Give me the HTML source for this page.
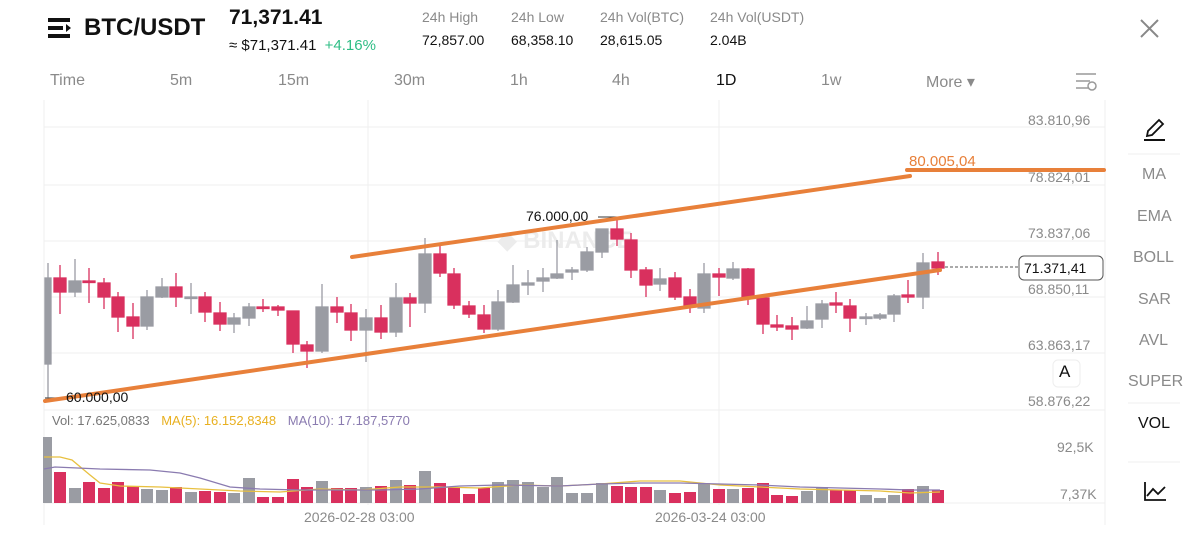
<!DOCTYPE html>
<html><head><meta charset="utf-8"><style>
body{margin:0;width:1200px;height:540px;background:#fff;overflow:hidden;font-family:"Liberation Sans",sans-serif;position:relative}
.a{position:absolute;white-space:nowrap}
.g{color:#8a8a8a}
</style></head><body>
<svg class="a" style="left:0;top:0" width="1200" height="540">
<!-- header icon -->
<rect x="48" y="18" width="22" height="4" fill="#111"/><rect x="48" y="26" width="15" height="4" fill="#111"/><rect x="48" y="34" width="22" height="4" fill="#111"/><path d="M66 24 l5 4 l-5 4z" fill="#111"/>
<!-- close X -->
<path d="M1141 20 L1158 37 M1158 20 L1141 37" stroke="#888" stroke-width="2"/>
<!-- menu icon -->
<path d="M1076 74 H1096 M1076 81 H1090 M1076 88 H1088" stroke="#999" stroke-width="1.5"/><circle cx="1092" cy="86" r="4" fill="none" stroke="#999" stroke-width="1.5"/>
<!-- grid -->
<g stroke="#efefef" stroke-width="1">
<line x1="44" y1="127" x2="1105" y2="127"/><line x1="44" y1="185" x2="1105" y2="185"/><line x1="44" y1="241" x2="1105" y2="241"/><line x1="44" y1="297" x2="1105" y2="297"/><line x1="44" y1="353" x2="1105" y2="353"/><line x1="44" y1="410" x2="1105" y2="410"/><line x1="44" y1="503" x2="1105" y2="503"/>
<line x1="368" y1="100" x2="368" y2="505"/><line x1="719" y1="100" x2="719" y2="505"/>
<line x1="44" y1="100" x2="44" y2="525"/><line x1="1105" y1="100" x2="1105" y2="525"/>
<line x1="1128" y1="154" x2="1180" y2="154"/><line x1="1128" y1="403" x2="1180" y2="403"/><line x1="1128" y1="462" x2="1180" y2="462"/>
</g>
<!-- watermark -->
<text x="498" y="248" font-size="24" font-weight="bold" fill="#ececec" font-family="Liberation Sans,sans-serif">◆ BINANCE</text>
<!-- candles -->
<g id="c" stroke-width="1.3">
<g fill="#9a9ca3" stroke="#9a9ca3">
<line x1="48" y1="263" x2="48" y2="398"/><rect x="45" y="278" width="6" height="86"/><line x1="45" y1="398" x2="66" y2="398" stroke="#555"/>
<line x1="75" y1="259" x2="75" y2="297"/><rect x="69" y="281" width="12" height="11"/>
<line x1="147" y1="290" x2="147" y2="330"/><rect x="141" y="297" width="12" height="29"/>
<line x1="162" y1="278" x2="162" y2="298"/><rect x="156" y="287" width="12" height="10"/>
<line x1="191" y1="283" x2="191" y2="314"/><rect x="185" y="297" width="12" height="1.5"/>
<line x1="234" y1="313" x2="234" y2="333"/><rect x="228" y="318" width="12" height="6"/>
<line x1="249" y1="303" x2="249" y2="326"/><rect x="243" y="307" width="12" height="11"/>
<line x1="322" y1="284" x2="322" y2="353"/><rect x="316" y="307" width="12" height="44"/>
<line x1="366" y1="309" x2="366" y2="362"/><rect x="360" y="318" width="12" height="12"/>
<line x1="396" y1="283" x2="396" y2="337"/><rect x="390" y="298" width="12" height="34"/>
<line x1="425" y1="238" x2="425" y2="313"/><rect x="419" y="254" width="12" height="49"/>
<line x1="498" y1="290" x2="498" y2="331"/><rect x="492" y="302" width="12" height="27"/>
<line x1="513" y1="265" x2="513" y2="303"/><rect x="507" y="285" width="12" height="17"/>
<line x1="528" y1="270" x2="528" y2="295"/><rect x="522" y="283" width="12" height="2"/>
<line x1="543" y1="268" x2="543" y2="292"/><rect x="537" y="278" width="12" height="3"/>
<line x1="557" y1="240" x2="557" y2="279"/><rect x="551" y="274" width="12" height="4"/>
<line x1="572" y1="267" x2="572" y2="280"/><rect x="566" y="270" width="12" height="2"/>
<line x1="587" y1="247" x2="587" y2="272"/><rect x="581" y="252" width="12" height="18"/>
<line x1="602" y1="229" x2="602" y2="258"/><rect x="596" y="229" width="12" height="23"/>
<line x1="660" y1="268" x2="660" y2="291"/><rect x="654" y="279" width="12" height="5"/>
<line x1="704" y1="263" x2="704" y2="313"/><rect x="698" y="274" width="12" height="34"/>
<line x1="733" y1="262" x2="733" y2="280"/><rect x="727" y="269" width="12" height="9"/>
<line x1="807" y1="306" x2="807" y2="329"/><rect x="801" y="321" width="12" height="7"/>
<line x1="822" y1="300" x2="822" y2="328"/><rect x="816" y="304" width="12" height="15"/>
<line x1="866" y1="313" x2="866" y2="325"/><rect x="860" y="317" width="12" height="1.5"/>
<line x1="880" y1="313" x2="880" y2="320"/><rect x="874" y="315" width="12" height="3"/>
<line x1="894" y1="294" x2="894" y2="322"/><rect x="888" y="296" width="12" height="18"/>
<line x1="923" y1="253" x2="923" y2="309"/><rect x="917" y="263" width="12" height="34"/>
</g>
<g fill="#d9305e" stroke="#d9305e">
<line x1="60" y1="265" x2="60" y2="314"/><rect x="54" y="278" width="12" height="14"/>
<line x1="89" y1="268" x2="89" y2="303"/><rect x="83" y="281" width="12" height="1.5"/>
<line x1="104" y1="278" x2="104" y2="309"/><rect x="98" y="283" width="12" height="14"/>
<line x1="118" y1="292" x2="118" y2="332"/><rect x="112" y="297" width="12" height="20"/>
<line x1="133" y1="303" x2="133" y2="339"/><rect x="127" y="317" width="12" height="9"/>
<line x1="176" y1="273" x2="176" y2="307"/><rect x="170" y="287" width="12" height="10"/>
<line x1="205" y1="292" x2="205" y2="322"/><rect x="199" y="297" width="12" height="15"/>
<line x1="220" y1="302" x2="220" y2="331"/><rect x="214" y="313" width="12" height="11"/>
<line x1="263" y1="299" x2="263" y2="312"/><rect x="257" y="307" width="12" height="1.5"/>
<line x1="278" y1="305" x2="278" y2="316"/><rect x="272" y="307" width="12" height="3"/>
<line x1="293" y1="311" x2="293" y2="353"/><rect x="287" y="311" width="12" height="33"/>
<line x1="307" y1="341" x2="307" y2="368"/><rect x="301" y="345" width="12" height="6"/>
<line x1="337" y1="297" x2="337" y2="323"/><rect x="331" y="307" width="12" height="5"/>
<line x1="351" y1="304" x2="351" y2="341"/><rect x="345" y="313" width="12" height="17"/>
<line x1="381" y1="305" x2="381" y2="339"/><rect x="375" y="318" width="12" height="14"/>
<line x1="410" y1="293" x2="410" y2="327"/><rect x="404" y="298" width="12" height="5"/>
<line x1="440" y1="245" x2="440" y2="277"/><rect x="434" y="254" width="12" height="19"/>
<line x1="454" y1="268" x2="454" y2="309"/><rect x="448" y="274" width="12" height="31"/>
<line x1="469" y1="301" x2="469" y2="318"/><rect x="463" y="306" width="12" height="8"/>
<line x1="484" y1="305" x2="484" y2="333"/><rect x="478" y="315" width="12" height="14"/>
<line x1="617" y1="217" x2="617" y2="246"/><rect x="611" y="229" width="12" height="10"/>
<line x1="631" y1="233" x2="631" y2="278"/><rect x="625" y="240" width="12" height="30"/>
<line x1="646" y1="267" x2="646" y2="297"/><rect x="640" y="270" width="12" height="15"/>
<line x1="675" y1="272" x2="675" y2="300"/><rect x="669" y="278" width="12" height="19"/>
<line x1="690" y1="289" x2="690" y2="313"/><rect x="684" y="297" width="12" height="10"/>
<line x1="719" y1="268" x2="719" y2="296"/><rect x="713" y="274" width="12" height="3"/>
<line x1="748" y1="268" x2="748" y2="305"/><rect x="742" y="269" width="12" height="28"/>
<line x1="763" y1="296" x2="763" y2="334"/><rect x="757" y="298" width="12" height="26"/>
<line x1="777" y1="315" x2="777" y2="331"/><rect x="771" y="325" width="12" height="2"/>
<line x1="792" y1="317" x2="792" y2="340"/><rect x="786" y="326" width="12" height="3"/>
<line x1="836" y1="292" x2="836" y2="313"/><rect x="830" y="303" width="12" height="2"/>
<line x1="850" y1="299" x2="850" y2="332"/><rect x="844" y="306" width="12" height="12"/>
<line x1="908" y1="280" x2="908" y2="303"/><rect x="902" y="295" width="12" height="2"/>
<line x1="938" y1="252" x2="938" y2="275"/><rect x="932" y="262" width="12" height="6"/>
</g>
</g>
<!-- 76000 marker -->
<line x1="598" y1="217" x2="617" y2="217" stroke="#333" stroke-width="1"/>
<!-- trend lines -->
<g stroke="#e8803a" stroke-width="4" stroke-linecap="round">
<line x1="352" y1="257" x2="910" y2="176"/>
<line x1="45" y1="401" x2="940" y2="270"/>
<line x1="907" y1="170" x2="1104" y2="170"/>
</g>
<line x1="945" y1="267" x2="1018" y2="267" stroke="#555" stroke-width="1" stroke-dasharray="3,2"/>
<rect x="1019" y="256" width="84" height="24" rx="5" fill="#fff" stroke="#555"/>
<rect x="1053" y="360" width="27" height="27" rx="5" fill="#fff" stroke="#eee"/>
<!-- volume -->
<g fill="#9a9ca3">
<rect x="43" y="437" width="9" height="66"/><rect x="69" y="488" width="12" height="15"/><rect x="141" y="489" width="12" height="14"/><rect x="156" y="490" width="12" height="13"/><rect x="185" y="492" width="12" height="11"/><rect x="228" y="493" width="12" height="10"/><rect x="243" y="478" width="12" height="25"/><rect x="316" y="481" width="12" height="22"/><rect x="360" y="487" width="12" height="16"/><rect x="390" y="480" width="12" height="23"/><rect x="419" y="471" width="12" height="32"/><rect x="492" y="482" width="12" height="21"/><rect x="507" y="480" width="12" height="23"/><rect x="522" y="482" width="12" height="21"/><rect x="537" y="487" width="12" height="16"/><rect x="551" y="477" width="12" height="26"/><rect x="566" y="493" width="12" height="10"/><rect x="581" y="493" width="12" height="10"/><rect x="596" y="483" width="12" height="20"/><rect x="654" y="490" width="12" height="13"/><rect x="698" y="483" width="12" height="20"/><rect x="727" y="489" width="12" height="14"/><rect x="801" y="491" width="12" height="12"/><rect x="816" y="487" width="12" height="16"/><rect x="860" y="495" width="12" height="8"/><rect x="874" y="498" width="12" height="5"/><rect x="888" y="495" width="12" height="8"/><rect x="917" y="486" width="12" height="17"/>
</g>
<g fill="#d9305e">
<rect x="54" y="472" width="12" height="31"/><rect x="83" y="482" width="12" height="21"/><rect x="98" y="488" width="12" height="15"/><rect x="112" y="482" width="12" height="21"/><rect x="127" y="486" width="12" height="17"/><rect x="170" y="487" width="12" height="16"/><rect x="199" y="491" width="12" height="12"/><rect x="214" y="492" width="12" height="11"/><rect x="257" y="497" width="12" height="6"/><rect x="272" y="497" width="12" height="6"/><rect x="287" y="479" width="12" height="24"/><rect x="301" y="487" width="12" height="16"/><rect x="331" y="488" width="12" height="15"/><rect x="345" y="488" width="12" height="15"/><rect x="375" y="486" width="12" height="17"/><rect x="404" y="485" width="12" height="18"/><rect x="434" y="483" width="12" height="20"/><rect x="448" y="487" width="12" height="16"/><rect x="463" y="494" width="12" height="9"/><rect x="478" y="488" width="12" height="15"/><rect x="611" y="486" width="12" height="17"/><rect x="625" y="487" width="12" height="16"/><rect x="640" y="487" width="12" height="16"/><rect x="669" y="493" width="12" height="10"/><rect x="684" y="492" width="12" height="11"/><rect x="713" y="489" width="12" height="14"/><rect x="742" y="488" width="12" height="15"/><rect x="757" y="483" width="12" height="20"/><rect x="771" y="495" width="12" height="8"/><rect x="786" y="496" width="12" height="7"/><rect x="830" y="490" width="12" height="13"/><rect x="844" y="490" width="12" height="13"/><rect x="902" y="489" width="12" height="14"/><rect x="932" y="490" width="12" height="13"/>
</g>
<polyline fill="none" stroke="#e8c040" stroke-width="1.3" points="44,457 60,457 72,460 90,475 100,483 120,486 160,487 200,489 240,491 280,492 320,489 360,490 400,487 440,487 480,488 520,485 560,486 600,484 640,481 680,481 720,485 760,487 800,489 840,490 880,491 910,493 940,492"/>
<polyline fill="none" stroke="#8a7bb0" stroke-width="1.3" points="44,469 55,467 100,469 150,470 180,473 200,478 230,487 260,489 300,490 340,490 380,490 420,489 460,486 500,485 560,486 600,484 640,483 680,483 720,484 760,485 800,487 840,488 880,489 910,490 940,490"/>
<!-- sidebar icons -->
<path d="M1148 131 L1159 120 L1163 124 L1152 135 L1147 136z" fill="none" stroke="#111" stroke-width="1.8"/><line x1="1144" y1="140" x2="1165" y2="140" stroke="#111" stroke-width="2"/>
<path d="M1145 482 V500 H1166 M1147 496 L1153 489 L1158 494 L1165 487" fill="none" stroke="#111" stroke-width="1.8"/>
</svg>
<div class="a" style="left:84px;top:14px;font-size:24px;font-weight:bold;color:#111">BTC/USDT</div>
<div class="a" style="left:229px;top:6px;font-size:21px;font-weight:bold;color:#111">71,371.41</div>
<div class="a" style="left:229px;top:37px;font-size:15px;color:#111">≈ $71,371.41 <span style="color:#2ebd85;margin-left:4px">+4.16%</span></div>
<div class="a g" style="left:422px;top:9px;font-size:14px">24h High</div><div class="a" style="left:422px;top:32px;font-size:14px;color:#111">72,857.00</div>
<div class="a g" style="left:511px;top:9px;font-size:14px">24h Low</div><div class="a" style="left:511px;top:32px;font-size:14px;color:#111">68,358.10</div>
<div class="a g" style="left:600px;top:9px;font-size:14px">24h Vol(BTC)</div><div class="a" style="left:600px;top:32px;font-size:14px;color:#111">28,615.05</div>
<div class="a g" style="left:710px;top:9px;font-size:14px">24h Vol(USDT)</div><div class="a" style="left:710px;top:32px;font-size:14px;color:#111">2.04B</div>
<div class="a g" style="left:50px;top:72px;font-size:16px">Time</div>
<div class="a g" style="left:170px;top:72px;font-size:16px">5m</div>
<div class="a g" style="left:278px;top:72px;font-size:16px">15m</div>
<div class="a g" style="left:394px;top:72px;font-size:16px">30m</div>
<div class="a g" style="left:510px;top:72px;font-size:16px">1h</div>
<div class="a g" style="left:612px;top:72px;font-size:16px">4h</div>
<div class="a" style="left:716px;top:72px;font-size:16px;color:#111">1D</div>
<div class="a g" style="left:821px;top:72px;font-size:16px">1w</div>
<div class="a g" style="left:926px;top:72px;font-size:16px">More ▾</div>
<div class="a g" style="left:1028px;top:112px;font-size:14px">83.810,96</div>
<div class="a g" style="left:1028px;top:169px;font-size:14px">78.824,01</div>
<div class="a g" style="left:1028px;top:225px;font-size:14px">73.837,06</div>
<div class="a g" style="left:1028px;top:281px;font-size:14px">68.850,11</div>
<div class="a g" style="left:1028px;top:337px;font-size:14px">63.863,17</div>
<div class="a g" style="left:1028px;top:393px;font-size:14px">58.876,22</div>
<div class="a g" style="left:1057px;top:439px;font-size:14px">92,5K</div>
<div class="a g" style="left:1060px;top:486px;font-size:14px">7,37K</div>
<div class="a" style="left:1024px;top:260px;font-size:14px;color:#111">71.371,41</div>
<div class="a" style="left:1059px;top:362px;font-size:17px;color:#111">A</div>
<div class="a" style="left:909px;top:153px;font-size:15px;color:#e8803a">80.005,04</div>
<div class="a" style="left:526px;top:208px;font-size:14px;color:#111">76.000,00</div>
<div class="a" style="left:66px;top:389px;font-size:14px;color:#111">60.000,00</div>
<div class="a" style="left:52px;top:413px;font-size:13px;color:#777">Vol: 17.625,0833 <span style="color:#e8b020;margin-left:8px">MA(5): 16.152,8348</span> <span style="color:#8a7bb0;margin-left:8px">MA(10): 17.187,5770</span></div>
<div class="a g" style="left:304px;top:509px;font-size:14px">2026-02-28 03:00</div>
<div class="a g" style="left:655px;top:509px;font-size:14px">2026-03-24 03:00</div>
<div class="a g" style="left:1142px;top:166px;font-size:16px">MA</div>
<div class="a g" style="left:1137px;top:208px;font-size:16px">EMA</div>
<div class="a g" style="left:1133px;top:249px;font-size:16px">BOLL</div>
<div class="a g" style="left:1138px;top:291px;font-size:16px">SAR</div>
<div class="a g" style="left:1139px;top:332px;font-size:16px">AVL</div>
<div class="a g" style="left:1128px;top:373px;font-size:16px">SUPER</div>
<div class="a" style="left:1138px;top:415px;font-size:16px;color:#111">VOL</div>
</body></html>
